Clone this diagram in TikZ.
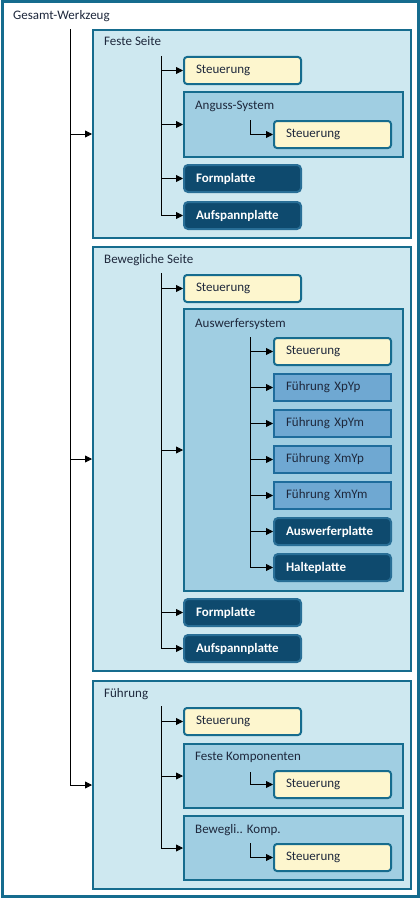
\documentclass[tikz,border=0pt]{standalone}
\usepackage{fontspec}
\setmainfont{Carlito}
\usetikzlibrary{arrows.meta, positioning}
\definecolor{wzteal}{RGB}{22, 108, 142}
\definecolor{wzlight}{RGB}{206, 232, 240}
\definecolor{wzmid}{RGB}{160, 206, 226}
\definecolor{wzguide}{RGB}{111, 168, 210}
\definecolor{wzguideedge}{RGB}{30, 108, 156}
\definecolor{wzdark}{RGB}{14, 74, 110}
\definecolor{wzdarkedge}{RGB}{40, 110, 150}
\definecolor{wzcream}{RGB}{253, 246, 206}
\definecolor{wztext}{RGB}{30, 40, 60}

\begin{document}
\begin{tikzpicture}[
    x=1pt, y=-1pt,
    font=\fontsize{13}{15}\selectfont,
    box/.style={
        rectangle,
        anchor=north west,
        line width=2pt,
        inner sep=0pt
    },
    group/.style={box, draw=wzteal, fill=wzlight, minimum width=318pt},
    subgroup/.style={box, draw=wzteal, fill=wzmid, minimum width=219pt},
    item/.style={
        box,
        minimum width=117pt,
        minimum height=27pt,
        text width=93pt,
        align=left,
        text=wztext
    },
    ctrl/.style={item, rounded corners=3pt, draw=wzteal, fill=wzcream},
    guide/.style={item, draw=wzguideedge, fill=wzguide},
    plate/.style={item, rounded corners=4pt, draw=wzdarkedge, fill=wzdark, text=white, font=\fontsize{13}{15}\selectfont\bfseries},
    title/.style={anchor=base west, inner sep=0pt, text=wztext},
    trunk/.style={line width=0.8pt, draw=black},
    arrow/.style={-{Triangle[length=7pt, width=7pt]}, line width=0.8pt, draw=black}
]
\useasboundingbox (0,0) rectangle (420,899);

% outer frame
\draw[draw=wzteal, line width=3pt, fill=white] (2,2) rectangle (418,896);
\node[title] (gw) at (13,20) {Gesamt-Werkzeug};

% Feste Seite
\node[group, minimum height=208pt] (fs) at (92,29) {};
\node[title] (fsLabel) at (104,46) {Feste Seite};
\node[ctrl] (fsCtrl) at (183,56) {Steuerung};
\node[subgroup, minimum height=65pt] (ang) at (183,91) {};
\node[title] (angLabel) at (195,109) {Anguss-System};
\node[ctrl] (angCtrl) at (273,120) {Steuerung};
\node[plate] (fsForm) at (183,164) {Formplatte};
\node[plate] (fsAuf) at (183,201) {Aufspannplatte};

% Bewegliche Seite
\node[group, minimum height=424pt] (bs) at (92,246) {};
\node[title] (bsLabel) at (104,263) {Bewegliche Seite};
\node[ctrl] (bsCtrl) at (183,274) {Steuerung};
\node[subgroup, minimum height=282pt] (aus) at (183,308) {};
\node[title] (ausLabel) at (195,327) {Auswerfersystem};
\node[ctrl] (ausCtrl) at (273,337) {Steuerung};
\node[guide] (xpyp) at (273,373) {Führung XpYp};
\node[guide] (xpym) at (273,409) {Führung XpYm};
\node[guide] (xmyp) at (273,445) {Führung XmYp};
\node[guide] (xmym) at (273,481) {Führung XmYm};
\node[plate] (ausPl) at (273,517) {Auswerferplatte};
\node[plate] (halt) at (273,553) {Halteplatte};
\node[plate] (bsForm) at (183,598) {Formplatte};
\node[plate] (bsAuf) at (183,634) {Aufspannplatte};

% Fuehrung
\node[group, minimum height=208pt] (fue) at (92,680) {};
\node[title] (fueLabel) at (104,697) {Führung};
\node[ctrl] (fueCtrl) at (183,707) {Steuerung};
\node[subgroup, minimum height=64pt] (fk) at (183,743) {};
\node[title] (fkLabel) at (195,760) {Feste Komponenten};
\node[ctrl] (fkCtrl) at (273,770) {Steuerung};
\node[subgroup, minimum height=64pt] (bk) at (183,815) {};
\node[title] (bkLabel) at (195,833) {Bewegli.. Komp.};
\node[ctrl] (bkCtrl) at (273,843) {Steuerung};

% trunk lines
\coordinate (root) at (70,29);
\coordinate (fsTop) at (161,56);
\coordinate (angTop) at (250,120);
\coordinate (bsTop) at (161,273);
\coordinate (ausTop) at (250,337);
\coordinate (fueTop) at (161,706);
\coordinate (fkTop) at (250,772);
\coordinate (bkTop) at (250,843);

\draw[trunk] (root) -- (root |- fue.west);
\draw[trunk] (fsTop) -- (fsTop |- fsAuf.west);
\draw[trunk] (angTop) -- (angTop |- angCtrl.west);
\draw[trunk] (bsTop) -- (bsTop |- bsAuf.west);
\draw[trunk] (ausTop) -- (ausTop |- halt.west);
\draw[trunk] (fueTop) -- (fueTop |- bk.west);
\draw[trunk] (fkTop) -- (fkTop |- fkCtrl.west);
\draw[trunk] (bkTop) -- (bkTop |- bkCtrl.west);

% arrows
\foreach \n in {fs, bs, fue}
    \draw[arrow] (root |- \n.west) -- (\n.west);
\foreach \n in {fsCtrl, ang, fsForm, fsAuf}
    \draw[arrow] (fsTop |- \n.west) -- (\n.west);
\draw[arrow] (angTop |- angCtrl.west) -- (angCtrl.west);
\foreach \n in {bsCtrl, aus, bsForm, bsAuf}
    \draw[arrow] (bsTop |- \n.west) -- (\n.west);
\foreach \n in {ausCtrl, xpyp, xpym, xmyp, xmym, ausPl, halt}
    \draw[arrow] (ausTop |- \n.west) -- (\n.west);
\foreach \n in {fueCtrl, fk, bk}
    \draw[arrow] (fueTop |- \n.west) -- (\n.west);
\draw[arrow] (fkTop |- fkCtrl.west) -- (fkCtrl.west);
\draw[arrow] (bkTop |- bkCtrl.west) -- (bkCtrl.west);

\end{tikzpicture}
\end{document}
